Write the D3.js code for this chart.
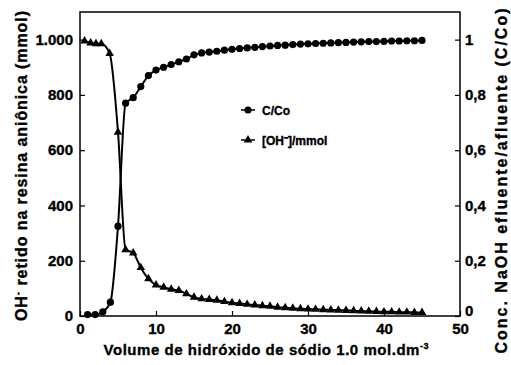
<!DOCTYPE html>
<html>
<head>
<meta charset="utf-8">
<script src="https://cdn.jsdelivr.net/npm/d3@7"></script>
<style>
  body { margin: 0; background: #fff; }
  text { font-family: "Liberation Sans", Arial, sans-serif; font-weight: bold; fill: #000; stroke: #000; stroke-width: 0.35px; }
</style>
</head>
<body>
<div id="chart"></div>
<script>
// C/Co (right axis), circles
const ccVolume = [1, 2, 3, 4, 5, 6, 7, 8, 9, 10, 11, 12, 13, 14, 15, 16, 17, 18, 19, 20,
  21, 22, 23, 24, 25, 26, 27, 28, 29, 30, 31, 32, 33, 34, 35, 36, 37, 38, 39, 40,
  41, 42, 43, 44, 45];
const ccValues = [0.005, 0.005, 0.015, 0.05, 0.325, 0.77, 0.79, 0.83, 0.87, 0.89, 0.90, 0.91,
  0.92, 0.93, 0.945, 0.952, 0.955, 0.958, 0.962, 0.965, 0.968, 0.97, 0.972, 0.975, 0.977,
  0.979, 0.98, 0.982, 0.984, 0.985, 0.986, 0.987, 0.988, 0.989, 0.99, 0.991, 0.992, 0.993,
  0.993, 0.994, 0.995, 0.995, 0.996, 0.996, 0.997];

// [OH-] retained (left axis), triangles
const ohVolume = [0.6, 1.4, 2.1, 2.8, 3.9, 5, 6, 7, 8, 9, 10, 11, 12, 13, 14, 15, 16, 17, 18,
  19, 20, 21, 22, 23, 24, 25, 26, 27, 28, 29, 30, 31, 32, 33, 34, 35, 36, 37, 38, 39, 40,
  41, 42, 43, 44, 45];
const ohValues = [995, 988, 985, 985, 950, 665, 240, 228, 175, 135, 112, 104, 97, 92, 80, 68,
  62, 60, 57, 52, 48, 45, 42, 40, 37, 35, 32, 30, 28, 26, 25, 24, 23, 22, 21, 20, 19, 18,
  17, 16, 15, 15, 14, 14, 13, 13];

const xTicks = [0, 10, 20, 30, 40, 50];
const leftTicks = [0, 200, 400, 600, 800, 1000];
const rightTicks = [0, 0.2, 0.4, 0.6, 0.8, 1];
const legendNames = ["C/Co", "[OH\u207B]/mmol"];

const width = 511, height = 365;
const margin = {top: 12, right: 51, bottom: 49, left: 80};

const svg = d3.select("#chart").append("svg")
  .attr("width", width)
  .attr("height", height);

const x = d3.scaleLinear().domain([0, 50]).range([margin.left, width - margin.right]);
const yLeft = d3.scaleLinear().domain([0, 1100]).range([height - margin.bottom, margin.top]);
const yRight = d3.scaleLinear().domain([0, 1.1]).range([height - margin.bottom, margin.top]);

// frame
svg.append("rect")
  .attr("x", margin.left).attr("y", margin.top)
  .attr("width", width - margin.left - margin.right)
  .attr("height", height - margin.top - margin.bottom)
  .attr("fill", "none").attr("stroke", "#000").attr("stroke-width", 1.5);

function styleAxis(g) {
  g.select(".domain").remove();
  g.selectAll(".tick line").attr("stroke", "#000").attr("stroke-width", 1.2);
  g.selectAll("text").style("font-size", "15px").style("font-family", "Liberation Sans, Arial, sans-serif")
    .style("font-weight", "bold").attr("fill", "#000");
}

svg.append("g")
  .attr("transform", `translate(0,${height - margin.bottom})`)
  .call(d3.axisBottom(x).tickValues(xTicks).tickSizeInner(-5).tickSizeOuter(0).tickPadding(7))
  .call(styleAxis);

svg.append("g")
  .attr("transform", `translate(${margin.left},0)`)
  .call(d3.axisLeft(yLeft).tickValues(leftTicks).tickSizeInner(-5).tickSizeOuter(0).tickPadding(7)
    .tickFormat(d => d === 1000 ? "1.000" : d))
  .call(styleAxis);

const rightAxis = svg.append("g")
  .attr("transform", `translate(${width - margin.right},0)`)
  .call(d3.axisRight(yRight).tickValues(rightTicks).tickSizeInner(-5).tickSizeOuter(0).tickPadding(5)
    .tickFormat(d => String(d).replace(".", ",")))
  .call(styleAxis);
// lift the bottom "0" so it clears the "50" below it
rightAxis.selectAll(".tick text").filter(d => d === 0).attr("dy", "-0.05em");

// series
const ccData = ccVolume.map((v, i) => [v, ccValues[i]]);
const ohData = ohVolume.map((v, i) => [v, ohValues[i]]);

const ccLine = d3.line().x(d => x(d[0])).y(d => yRight(d[1])).curve(d3.curveMonotoneX);
const ohLine = d3.line().x(d => x(d[0])).y(d => yLeft(d[1])).curve(d3.curveMonotoneX);

svg.append("path").datum(ohData).attr("d", ohLine)
  .attr("fill", "none").attr("stroke", "#000").attr("stroke-width", 2);
svg.append("path").datum(ccData).attr("d", ccLine)
  .attr("fill", "none").attr("stroke", "#000").attr("stroke-width", 2);

const tri = d3.symbol().type(d3.symbolTriangle).size(32);

svg.append("g").selectAll("path").data(ohData).join("path")
  .attr("d", tri)
  .attr("transform", d => `translate(${x(d[0])},${yLeft(d[1])})`)
  .attr("fill", "#000");

svg.append("g").selectAll("circle").data(ccData).join("circle")
  .attr("cx", d => x(d[0])).attr("cy", d => yRight(d[1]))
  .attr("r", 3.6).attr("fill", "#000");

// legend
const legend = svg.append("g");
legendNames.forEach((name, i) => {
  const ly = 110 + i * 30;
  legend.append("line").attr("x1", 241).attr("x2", 255).attr("y1", ly).attr("y2", ly)
    .attr("stroke", "#000").attr("stroke-width", 1.5);
  if (i === 0) {
    legend.append("circle").attr("cx", 248).attr("cy", ly).attr("r", 3.6).attr("fill", "#000");
  } else {
    legend.append("path").attr("d", tri).attr("transform", `translate(248,${ly})`).attr("fill", "#000");
  }
  legend.append("text").attr("x", 262).attr("y", ly + 5)
    .style("font-size", "12px").text(name);
});

// axis titles
svg.append("text")
  .attr("x", 266).attr("y", 355)
  .attr("text-anchor", "middle")
  .style("font-size", "15px")
  .attr("textLength", 325)
  .html('Volume de hidróxido de sódio 1.0 mol.dm<tspan dy="-6" style="font-size:9px">-3</tspan>');

svg.append("text")
  .attr("transform", "translate(27,166) rotate(-90)")
  .attr("text-anchor", "middle")
  .style("font-size", "16px")
  .attr("textLength", 310)
  .html('OH<tspan dy="-6" style="font-size:10px">-</tspan><tspan dy="6"> retido na resina aniônica (mmol)</tspan>');

svg.append("text")
  .attr("transform", "translate(507,181) rotate(-90)")
  .attr("text-anchor", "middle")
  .style("font-size", "16px")
  .attr("textLength", 345)
  .text("Conc. NaOH efluente/afluente (C/Co)");
</script>
</body>
</html>
